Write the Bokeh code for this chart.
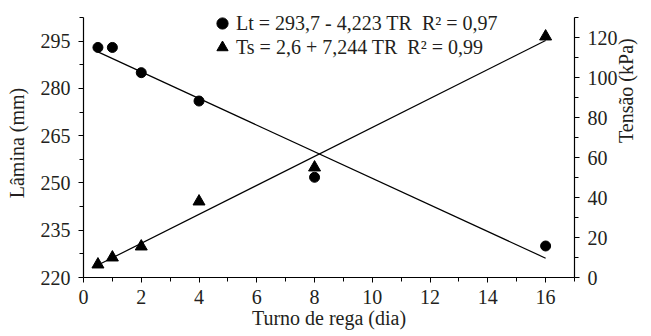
import math
from bokeh.plotting import figure
from bokeh.models import Range1d, LinearAxis, FixedTicker, Legend, LegendItem
from bokeh.embed import file_html
from bokeh.resources import INLINE

# Data
turno = [0.5, 1, 2, 4, 8, 16]
lamina = [293.0, 293.0, 285.0, 276.0, 251.8, 230.0]
tensao = [6.5, 10.0, 15.5, 38.0, 55.0, 120.5]
lt_a, lt_b = 293.7, -4.223
ts_a, ts_b = 2.6, 7.244
x_ticks = [0, 2, 4, 6, 8, 10, 12, 14, 16]
x_minor = [1, 3, 5, 7, 9, 11, 13, 15, 17]
left_ticks = [220, 235, 250, 265, 280, 295]
left_minor = [227.5, 242.5, 257.5, 272.5, 287.5, 302.5]
right_ticks = [0, 20, 40, 60, 80, 100, 120]
right_minor = [10, 30, 50, 70, 90, 110, 130]
lt_label = "Lt = 293,7 - 4,223 TR  R² = 0,97"
ts_label = "Ts = 2,6 + 7,244 TR  R² = 0,99"

FONT = "Liberation Serif"

p = figure(width=650, height=335, output_backend="svg", toolbar_location=None,
           x_range=Range1d(0, 17), y_range=Range1d(220, 305.36),
           min_border_left=83, min_border_right=71, min_border_top=8, min_border_bottom=58)
p.extra_y_ranges = {"t": Range1d(0, 134.5)}
p.outline_line_color = None
p.xgrid.visible = False
p.ygrid.visible = False
p.background_fill_color = "white"

# regression lines
x0, x1 = turno[0], turno[-1]
p.line([x0, x1], [lt_a + lt_b * x0, lt_a + lt_b * x1], line_color="black", line_width=1.2)
p.line([x0, x1], [ts_a + ts_b * x0, ts_a + ts_b * x1], line_color="black", line_width=1.2, y_range_name="t")

c = p.scatter(turno, lamina, marker="circle", size=10, fill_color="black", line_color="black")
t = p.scatter(turno, tensao, marker="triangle", size=12, fill_color="black", line_color="black", y_range_name="t")

def style(ax, ticks, minor):
    ax.ticker = FixedTicker(ticks=ticks, minor_ticks=minor)
    ax.major_label_text_font = FONT
    ax.major_label_text_font_size = "20px"
    ax.major_label_text_color = "#231f20"
    ax.axis_label_text_font = FONT
    ax.axis_label_text_font_size = "20px"
    ax.axis_label_text_font_style = "normal"
    ax.axis_label_text_color = "#231f20"
    ax.axis_line_color = "black"
    ax.axis_line_width = 1.2
    ax.major_tick_line_color = "black"
    ax.minor_tick_line_color = "black"
    ax.major_tick_out = 5
    ax.major_tick_in = 0
    ax.minor_tick_out = 4
    ax.minor_tick_in = 0
    ax.major_label_standoff = 8

style(p.xaxis[0], x_ticks, x_minor)
p.xaxis[0].axis_label = "Turno de rega (dia)"
p.xaxis[0].major_label_standoff = 7
p.xaxis[0].axis_label_standoff = 0
p.xaxis[0].bounds = (0, 17)
style(p.yaxis[0], left_ticks, left_minor)
p.yaxis[0].axis_label = "Lâmina (mm)"
p.yaxis[0].axis_label_standoff = 10
p.yaxis[0].bounds = (220, 302.5)

ra = LinearAxis(y_range_name="t", axis_label="Tensão (kPa)")
style(ra, right_ticks, right_minor)
ra.axis_label_standoff = 5
ra.axis_label_orientation = math.pi / 2
ra.bounds = (0, 130)
p.add_layout(ra, "right")

def make_legend(label, renderer, y):
    return Legend(items=[LegendItem(label=label, renderers=[renderer])],
                  location=(125, y), orientation="vertical",
                  border_line_color=None, background_fill_alpha=0,
                  label_text_font=FONT, label_text_font_size="20px", label_text_color="#231f20",
                  glyph_width=28, glyph_height=30, label_standoff=0, spacing=0, padding=0,
                  label_height=30, margin=0)

p.add_layout(make_legend(lt_label, c, 239), "center")
p.add_layout(make_legend(ts_label, t, 215), "center")

open("out.html", "w").write(file_html(p, INLINE))
